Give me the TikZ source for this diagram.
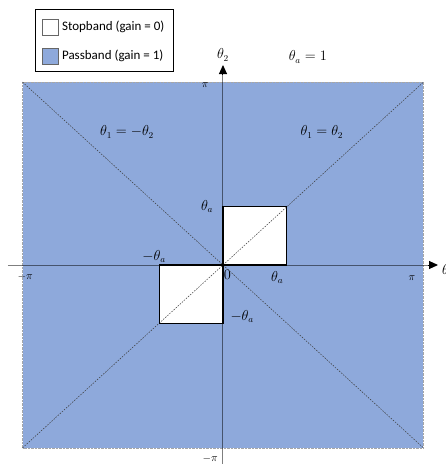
\documentclass[tikz,border=0pt]{standalone}
\usepackage{fontspec}
\newfontfamily\legendfont{Carlito}
\usetikzlibrary{arrows.meta}
\definecolor{passblue}{RGB}{142,169,219}
\definecolor{diaggray}{RGB}{60,60,60}
\begin{document}
\begin{tikzpicture}[x=63.8pt, y=58.2pt,
  every node/.style={font=\fontsize{13.5}{15}\selectfont, inner sep=1pt},
  pilabel/.style={font=\fontsize{10.5}{12}\selectfont},
  band/.style={fill=passblue, draw=gray!70, densely dotted},
  stopbox/.style={draw=black, line width=1.2pt},
  diag/.style={diaggray, line width=0.5pt, dash pattern=on 1.5pt off 1.3pt},
  axisline/.style={black, opacity=0.5, line width=1pt},
  axistip/.style={-{Triangle[length=9pt,width=8pt]}, line width=1pt},
  swatch/.style={draw=gray!80!black, line width=0.8pt, minimum width=16pt, minimum height=16pt, inner sep=0pt},
  legtext/.style={font=\legendfont\fontsize{13}{15}\selectfont, anchor=west, inner sep=0pt}]
\useasboundingbox (-3.495,-3.419) rectangle (3.495,4.553);
% corners of the band
\coordinate (sw) at (-pi,-pi);
\coordinate (se) at (pi,-pi);
\coordinate (ne) at (pi,pi);
\coordinate (nw) at (-pi,pi);
\coordinate (o) at (0,0);
\fill[passblue] (sw) rectangle (ne);
\draw[band, fill=none] (sw) rectangle (ne);
% stopband squares
\fill[white] (o) rectangle (1,1);
\fill[white] (-1,-1) rectangle (o);
\draw[diag] (sw) -- (ne);
\draw[diag] (nw) -- (se);
% axes
\coordinate (xl) at (-3.37,0);
\coordinate (xr) at (3.37,0);
\coordinate (yb) at (0,-3.45);
\coordinate (yt) at (0,3.436);
\draw[axisline] (xl) -- (3.25,0);
\draw[axisline] (yb) -- (0,3.30);
\draw[axistip] (3.22,0) -- (xr);
\draw[axistip] (0,3.28) -- (yt);
\draw[stopbox] (o) rectangle (1,1);
\draw[stopbox] (-1,-1) rectangle (o);
% labels
\node (t2) at (0,3.608) {$\theta_2$};
\node[anchor=west] (t1) at (3.417,-0.1) {$\theta_1$};
\node (ta) at (1.33,3.574) {$\theta_a = 1$};
\node[pilabel] (pitop) at (-0.28,3.09) {$\pi$};
\node[pilabel] (pibot) at (-0.2,-3.33) {$-\pi$};
\node[pilabel] (piright) at (2.96,-0.22) {$\pi$};
\node[pilabel] (pileft) at (-3.10,-0.21) {$-\pi$};
\node (anti) at (-1.505,2.285) {$\theta_1 = -\theta_2$};
\node (same) at (1.55,2.285) {$\theta_1 = \theta_2$};
\node (tau) at (-0.25,1.01) {$\theta_a$};
\node (tal) at (-1.08,0.14) {$-\theta_a$};
\node (zero) at (0.07,-0.17) {$0$};
\node (tar) at (0.85,-0.21) {$\theta_a$};
\node (tad) at (0.30,-0.89) {$-\theta_a$};
% legend
\node[draw=black, line width=1pt, minimum width=138pt, minimum height=62pt] (legend) at (-1.85,3.849) {};
\node[swatch, fill=white] (stopsw) at (-2.704,4.089) {};
\node[swatch, fill=passblue] (passsw) at (-2.704,3.591) {};
\node[legtext, right=3pt] (stoptx) at (stopsw.east) {Stopband (gain = 0)};
\node[legtext, right=3pt] (passtx) at (passsw.east) {Passband (gain = 1)};
\end{tikzpicture}
\end{document}
